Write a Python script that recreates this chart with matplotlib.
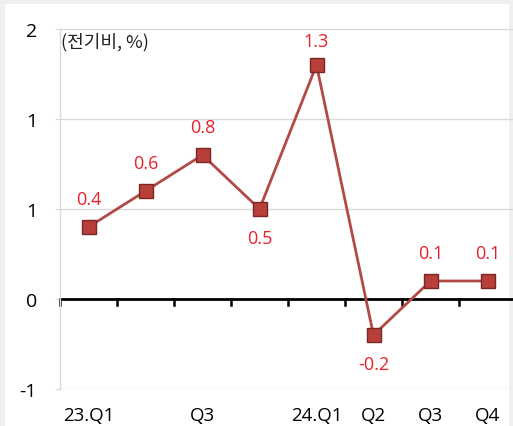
import matplotlib
matplotlib.use("Agg")
import matplotlib.pyplot as plt
from matplotlib.patches import Rectangle

plt.rcParams['font.family'] = ['Open Sans', 'Noto Sans CJK KR', 'DejaVu Sans']

categories = ["23.Q1", "", "Q3", "", "24.Q1", "Q2", "Q3", "Q4"]
values = [0.4, 0.6, 0.8, 0.5, 1.3, -0.2, 0.1, 0.1]
label_below = [False, False, False, True, False, True, False, False]
y_ticks = [-0.5, 0.0, 0.5, 1.0, 1.5]
y_tick_labels = ["-1", "0", "1", "1", "2"]
unit_label = "(전기비, %)"

W, H = 513, 427
fig = plt.figure(figsize=(W / 100, H / 100), dpi=100, facecolor="#f0f0f0")
fig.patches.append(Rectangle((5 / W, 0), 504 / W, (H - 5) / H,
                             transform=fig.transFigure, facecolor="white",
                             edgecolor="none", zorder=-10))

ax = fig.add_axes([60 / W, 37 / H, 456 / W, 360 / H])
ax.set_facecolor("none")

x = list(range(len(values)))
ax.plot(x, values, color="#b24a45", linewidth=2.0, zorder=3,
        marker="s", markersize=10, markerfacecolor="#b83f3a",
        markeredgecolor="#7a2823", markeredgewidth=1.0)

for xi, v, below in zip(x, values, label_below):
    off = -21 if below else 20
    if v == max(values):
        off = 17
    ax.annotate(f"{v:.1f}", (xi, v), xytext=(0, off), textcoords="offset points",
                ha="center", va="center", color="#e8212b", fontsize=13, zorder=4)

ax.set_xlim(-0.5, 7.5)
ax.set_ylim(-0.5, 1.5)
ax.set_yticks(y_ticks)
ax.set_yticklabels(y_tick_labels, fontsize=14)
ax.set_xticks(x)
ax.set_xticklabels(categories, fontsize=13.5)
ax.tick_params(axis="x", length=0, pad=12)
ax.tick_params(axis="y", length=3.5, color="#d9d9d9", pad=13)

ax.grid(axis="y", color="#d9d9d9", linewidth=1.0, zorder=0)
for side in ["top", "right", "bottom"]:
    ax.spines[side].set_visible(False)
ax.spines["left"].set_color("#d9d9d9")
ax.spines["left"].set_linewidth(1.0)

# zero baseline with category-boundary ticks
ax.axhline(0, color="black", linewidth=2.0, zorder=2)
for b in range(len(values) + 1):
    ax.plot([b - 0.5, b - 0.5], [0, -0.035], color="black", linewidth=1.8,
            zorder=2, clip_on=False)

ax.text(-0.48, 1.43, unit_label, ha="left", va="center",
        fontsize=13, color="#222222",
        family=['Noto Sans CJK KR', 'DejaVu Sans'])

fig.savefig("out.png", dpi=100, facecolor=fig.get_facecolor())
